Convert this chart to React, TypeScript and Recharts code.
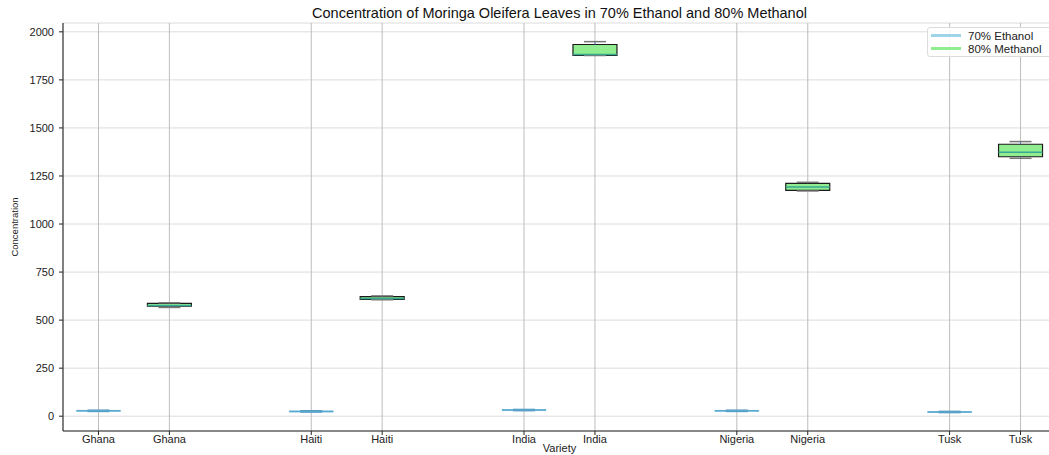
import React from 'react'
import {
  ComposedChart,
  XAxis,
  YAxis,
  CartesianGrid,
  ReferenceArea,
  ReferenceLine,
  Scatter,
} from 'recharts'

const varieties = ['Ghana', 'Haiti', 'India', 'Nigeria', 'Tusk']
const ethanolPos = [1, 4, 7, 10, 13]
const methanolPos = [2, 5, 8, 11, 14]

// 70% Ethanol: min, q1, median, q3, max
const ethanolMin = [25, 22, 29, 25, 19]
const ethanolQ1 = [26, 23, 30, 26, 20]
const ethanolMedian = [28, 25, 32, 28, 22]
const ethanolQ3 = [30, 27, 34, 30, 24]
const ethanolMax = [31, 28, 35, 31, 25]

// 80% Methanol
const methanolMin = [566, 606, 1877, 1172, 1342]
const methanolQ1 = [573, 608, 1877, 1175, 1350]
const methanolMedian = [576, 612, 1882, 1193, 1373]
const methanolQ3 = [587, 622, 1934, 1212, 1415]
const methanolMax = [590, 626, 1949, 1217, 1429]

const yTicks = [0, 250, 500, 750, 1000, 1250, 1500, 1750, 2000]

const xTicks = [...ethanolPos, ...methanolPos].sort((a, b) => a - b)
const tickName: Record<number, string> = {}
varieties.forEach((v, i) => {
  tickName[ethanolPos[i]] = v
  tickName[methanolPos[i]] = v
})

const medianPoints = varieties.map((v, i) => ({ x: methanolPos[i], y: methanolMedian[i] }))

const HALF = 0.31
const CAP = 0.155
const FONT = '"Liberation Sans", Arial, sans-serif'

function boxElements(
  key: string,
  pos: number[],
  min: number[],
  q1: number[],
  med: number[],
  q3: number[],
  max: number[],
  colors: { fill: string; edge: string; median: string; whisker: string; cap: string; edgeWidth: number }
) {
  const out: React.ReactNode[] = []
  pos.forEach((x, i) => {
    out.push(
      <ReferenceLine
        key={`${key}-wl-${i}`}
        segment={[{ x, y: min[i] }, { x, y: q1[i] }]}
        stroke={colors.whisker}
        strokeWidth={1}
      />,
      <ReferenceLine
        key={`${key}-wh-${i}`}
        segment={[{ x, y: q3[i] }, { x, y: max[i] }]}
        stroke={colors.whisker}
        strokeWidth={1}
      />,
      <ReferenceArea
        key={`${key}-box-${i}`}
        x1={x - HALF}
        x2={x + HALF}
        y1={q1[i]}
        y2={q3[i]}
        fill={colors.fill}
        fillOpacity={1}
        stroke={colors.edge}
        strokeWidth={colors.edgeWidth}
      />,
      <ReferenceLine
        key={`${key}-cl-${i}`}
        segment={[{ x: x - CAP, y: min[i] }, { x: x + CAP, y: min[i] }]}
        stroke={colors.cap}
        strokeWidth={1.5}
      />,
      <ReferenceLine
        key={`${key}-ch-${i}`}
        segment={[{ x: x - CAP, y: max[i] }, { x: x + CAP, y: max[i] }]}
        stroke={colors.cap}
        strokeWidth={1.5}
      />,
      <ReferenceLine
        key={`${key}-md-${i}`}
        segment={[{ x: x - HALF, y: med[i] }, { x: x + HALF, y: med[i] }]}
        stroke={colors.median}
        strokeWidth={1.5}
      />
    )
  })
  return out
}

function LegendBox() {
  const row = (color: string, label: string) => (
    <div style={{ display: 'flex', alignItems: 'center', height: 13 }}>
      <span style={{ display: 'inline-block', width: 30, height: 3, background: color, marginRight: 7 }} />
      <span>{label}</span>
    </div>
  )
  return (
    <div
      style={{
        position: 'absolute',
        left: 927,
        top: 27,
        width: 130,
        padding: '1px 3px',
        border: '1px solid #dcdcdc',
        borderRadius: 3,
        background: 'rgba(255,255,255,0.85)',
        fontFamily: FONT,
        fontSize: 11.5,
        color: '#222',
      }}
    >
      {row('#9fd3ea', '70% Ethanol')}
      {row('#90ee90', '80% Methanol')}
    </div>
  )
}

export default function App() {
  return (
    <div
      style={{
        position: 'absolute',
        left: 0,
        top: 0,
        width: 1049,
        height: 455,
        overflow: 'hidden',
        background: '#fff',
        fontFamily: FONT,
      }}
    >
      <div
        style={{
          position: 'absolute',
          left: 63,
          top: 5,
          width: 993,
          textAlign: 'center',
          fontSize: 14.5,
          color: '#111',
        }}
      >
        Concentration of Moringa Oleifera Leaves in 70% Ethanol and 80% Methanol
      </div>
      <ComposedChart width={1070} height={455} margin={{ top: 23, right: 14, left: 0, bottom: 0 }}>
        <CartesianGrid vertical={false} stroke="#dcdcdc" strokeWidth={1} />
        <CartesianGrid horizontal={false} stroke="#bdbdbd" strokeWidth={1} />
        <XAxis
          type="number"
          dataKey="x"
          domain={[0.5, 14.5]}
          ticks={xTicks}
          tickFormatter={(v) => tickName[v] ?? ''}
          interval={0}
          height={24}
          tickSize={4}
          tickMargin={0}
          stroke="#222"
          tick={{ fontSize: 11, fill: '#222', fontFamily: FONT }}
          allowDataOverflow
          label={{ value: 'Variety', position: 'insideBottom', offset: 3, fontSize: 11, fill: '#222', fontFamily: FONT }}
        />
        <XAxis
          xAxisId="top"
          orientation="top"
          type="number"
          domain={[0.5, 14.5]}
          height={0}
          tick={false}
          tickLine={false}
          stroke="#222"
          allowDataOverflow
        />
        <YAxis
          type="number"
          dataKey="y"
          domain={[-77, 2046]}
          ticks={yTicks}
          width={63}
          tickSize={4}
          tickMargin={5}
          stroke="#222"
          allowDataOverflow
          tick={{ fontSize: 11, fill: '#222', fontFamily: FONT }}
          label={{ value: 'Concentration', angle: -90, position: 'center', dx: -17, fontSize: 9.5, fill: '#222', fontFamily: FONT }}
        />
        {boxElements('eth', ethanolPos, ethanolMin, ethanolQ1, ethanolMedian, ethanolQ3, ethanolMax, {
          fill: '#add8e6',
          edge: '#8fcbe6',
          median: '#5aa9d0',
          whisker: '#5aa9d0',
          cap: '#4a90b8',
          edgeWidth: 1,
        })}
        {boxElements('meth', methanolPos, methanolMin, methanolQ1, methanolMedian, methanolQ3, methanolMax, {
          fill: '#90ee90',
          edge: '#1a1a1a',
          median: '#3aa890',
          whisker: '#5577cc',
          cap: '#777777',
          edgeWidth: 1.2,
        })}
        <Scatter
          name="80% Methanol"
          data={medianPoints}
          isAnimationActive={false}
          legendType="none"
          shape={() => <g />}
        />
      </ComposedChart>
      <LegendBox />
    </div>
  )
}
